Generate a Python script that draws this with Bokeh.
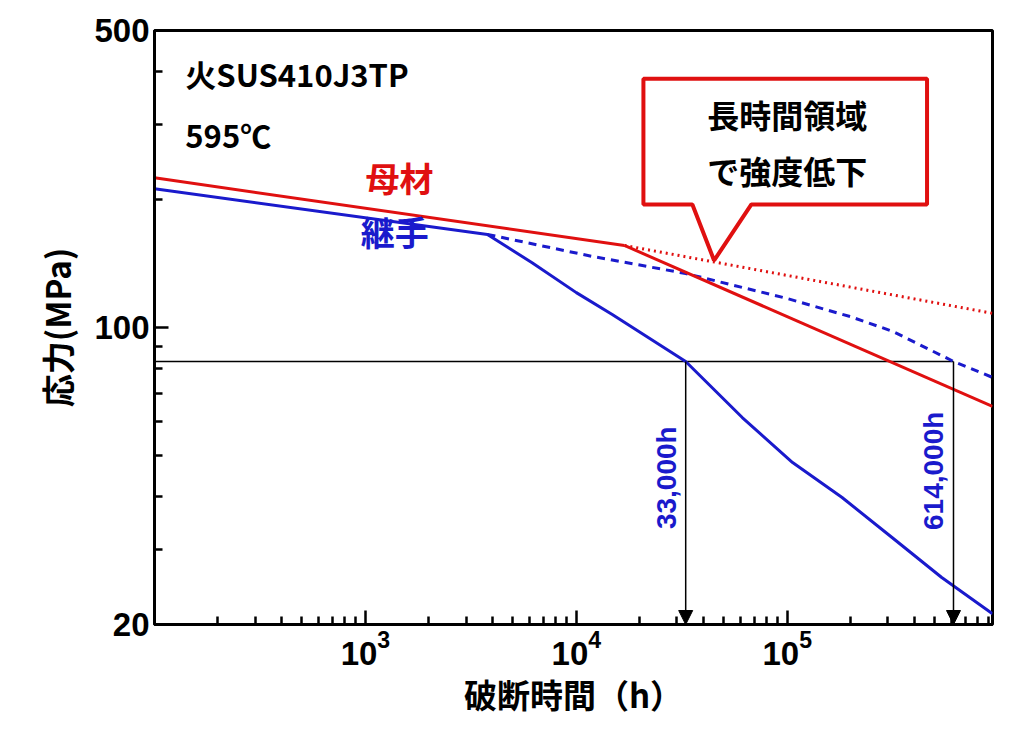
import numpy as np
from bokeh.plotting import figure
from bokeh.models import FixedTicker, Arrow, NormalHead, LogTickFormatter, PrintfTickFormatter
from bokeh.core.properties import value
from bokeh.embed import file_html
from bokeh.resources import INLINE

red_x = [100, 16900]; red_y = [225, 156]
red2_x = [16900, 9.4e5]; red2_y = [156, 65.2]
red_dot_x = [16900, 9.4e5]; red_dot_y = [156, 108]
blue_x = [100, 3790, 6170, 10000, 14800, 33000, 61200, 1.06e5, 1.82e5, 3.15e5, 5.4e5, 9.4e5]
blue_y = [212, 165.6, 142, 120.8, 107.3, 83.2, 61.4, 48.1, 39.8, 32.0, 25.8, 21.2]
blue_dash_x = [3790, 11900, 33000, 1.0e5, 2.0e5, 3.15e5, 6.14e5, 9.4e5]
blue_dash_y = [165.6, 147, 134, 117, 106, 98, 83.2, 76.3]
level = 83.2
t_joint = 33000
t_base = 614000
box_x = [20800, 4.6e5, 4.6e5, 67600, 45000, 35500, 20800]
box_y = [385, 385, 194.8, 194.8, 143.8, 194.8, 194.8]

CJK = "Noto Sans CJK JP"
RED = "#e01010"; BLUE = "#1a1acc"
p = figure(width=1000, height=720, x_axis_type="log", y_axis_type="log",
           x_range=(100, 9.4e5), y_range=(20, 500), output_backend="svg",
           toolbar_location=None, min_border_left=154, min_border_top=30,
           min_border_right=8, min_border_bottom=96)
p.grid.visible = False
p.outline_line_color = "black"; p.outline_line_width = 3; p.outline_line_alpha = 1

p.yaxis.ticker = FixedTicker(ticks=[20, 100, 500], minor_ticks=[30,40,50,60,70,80,90,200,300,400])
p.yaxis.formatter = PrintfTickFormatter(format="%d")
p.xaxis.ticker = FixedTicker(ticks=[1e3, 1e4, 1e5],
    minor_ticks=[v*m for v in [100, 1e3, 1e4, 1e5] for m in range(2, 10)])
p.xaxis.formatter = LogTickFormatter()
for ax in (p.xaxis[0], p.yaxis[0]):
    ax.major_tick_in = 14; ax.major_tick_out = 0
    ax.minor_tick_in = 8; ax.minor_tick_out = 0
    ax.axis_line_width = 3; ax.major_tick_line_width = 2.5; ax.minor_tick_line_width = 2.5
    ax.major_tick_line_color = "black"; ax.minor_tick_line_color = "black"
    ax.major_label_text_font = "Liberation Sans"
    ax.major_label_text_font_size = "33px"
    ax.major_label_text_font_style = "bold"
    ax.major_label_text_color = "black"
    ax.axis_label_text_font = CJK
    ax.axis_label_text_font_size = "33px"
    ax.axis_label_text_font_style = "bold"
    ax.axis_label_text_color = "black"
p.xaxis.axis_label = "破断時間（h）"
p.yaxis.axis_label = "応力(MPa)"
p.xaxis.axis_label_standoff = 2
p.yaxis.axis_label_standoff = 10

p.line([100, t_base], [level, level], line_color="black", line_width=1.5)
head = dict(size=14, fill_color="black", line_color="black")
p.add_layout(Arrow(end=NormalHead(**head), x_start=t_joint, y_start=level, x_end=t_joint, y_end=20, line_width=1.5))
p.add_layout(Arrow(end=NormalHead(**head), x_start=t_base, y_start=level, x_end=t_base, y_end=20, line_width=1.5))

p.line(red_dot_x, red_dot_y, line_color=RED, line_width=3, line_dash="2 4")
p.line(blue_dash_x, blue_dash_y, line_color=BLUE, line_width=3, line_dash="8 6")
p.line(red_x, red_y, line_color=RED, line_width=3)
p.line(red2_x, red2_y, line_color=RED, line_width=3)
p.line(blue_x, blue_y, line_color=BLUE, line_width=3)

p.patch(box_x, box_y, fill_color="white", line_color=RED, line_width=4)
p.text([1.0e5, 1.0e5], [318, 235], text=["長時間領域", "で強度低下"], text_font=value(CJK),
       text_font_style="bold", text_font_size="32px", text_align="center", text_baseline="middle", text_color="black")

p.text([140, 140], [395, 285], text=["火SUS410J3TP", "595℃"], text_font=value(CJK),
       text_font_size="31px", text_font_style="bold", text_baseline="middle", text_color="black")
p.text([1000], [226], text=["母材"], text_font=value(CJK), text_font_size="34px", text_font_style="bold",
       text_baseline="middle", text_color=RED)
p.text([950], [168], text=["継手"], text_font=value(CJK), text_font_size="34px", text_font_style="bold",
       text_baseline="middle", text_color=BLUE)
p.text([t_joint, t_base], [44.3, 46], text=["33,000h", "614,000h"], angle=np.pi/2,
       text_font=value("Liberation Sans"), text_font_style="bold", text_font_size="28px",
       text_align="center", text_baseline="bottom", x_offset=-4, text_color=BLUE)

open("out.html", "w").write(file_html(p, INLINE))
